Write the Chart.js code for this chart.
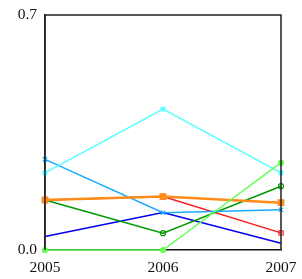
<!DOCTYPE html>
<html>
<head>
<meta charset="utf-8">
<script src="https://cdn.jsdelivr.net/npm/chart.js@4"></script>
<style>
  html, body { margin: 0; padding: 0; background: #fff; }
  #wrap { width: 302px; height: 279px; }
</style>
</head>
<body>
<div id="wrap"><canvas id="chart" width="302" height="279"></canvas></div>
<script>
const years = ['2005', '2006', '2007']
const yTicks = [0, 0.7]

const lightGreen = [0, 0, 0.26]
const orange = [0.149, 0.159, 0.141]
const red = [0.149, 0.159, 0.051]
const cyan = [0.23, 0.42, 0.23]
const skyBlue = [0.27, 0.111, 0.12]
const green = [0.149, 0.05, 0.19]
const blue = [0.04, 0.112, 0.02]

const serif = "'Liberation Serif', 'DejaVu Serif', serif"

const frame = {
  id: 'frame',
  afterDatasetsDraw(chart) {
    const { ctx, chartArea: a } = chart
    ctx.save()
    ctx.strokeStyle = '#222'
    ctx.lineWidth = 1.5
    ctx.beginPath()
    ctx.moveTo(a.left, a.bottom)
    ctx.lineTo(a.left, a.top)
    ctx.lineTo(a.right, a.top)
    ctx.lineTo(a.right, a.bottom)
    ctx.stroke()
    ctx.restore()
  },
}

function series(data, color, opts) {
  return Object.assign({
    data,
    borderColor: color,
    backgroundColor: color,
    pointBorderColor: color,
    borderWidth: 1.5,
    pointRadius: 2.5,
    pointBorderWidth: 1.2,
    tension: 0,
    clip: 8,
  }, opts)
}

new Chart(document.getElementById('chart'), {
  type: 'line',
  data: {
    labels: years,
    datasets: [
      series(lightGreen, '#66ff55', { pointStyle: 'circle', pointRadius: 2.5 }),
      series(orange, '#ff8c1a', { borderWidth: 2.5, pointStyle: 'rect', pointRadius: 4 }),
      series(cyan, '#55ffff', { pointStyle: 'rect', pointRadius: 2.5 }),
      series(skyBlue, '#1aaaff', { pointStyle: 'crossRot', pointRadius: 3 }),
      series(green, '#009900', { pointStyle: 'circle', pointRadius: 2.5, backgroundColor: 'rgba(0,0,0,0)' }),
      series(red, '#ff1a1a', { pointStyle: 'rect', pointRadius: 3, backgroundColor: 'rgba(0,0,0,0)' }),
      series(blue, '#0000ee', { pointRadius: 0 }),
    ],
  },
  options: {
    responsive: false,
    animation: false,
    events: [],
    layout: { padding: { left: 0, right: 21, top: 15, bottom: 0 } },
    plugins: { legend: { display: false }, tooltip: { enabled: false } },
    scales: {
      x: {
        offset: false,
        grid: { display: false, drawTicks: false },
        border: { display: true, color: '#111', width: 1.5 },
        ticks: { color: '#111', font: { family: serif, size: 15.5 }, padding: 9, maxRotation: 0 },
        afterFit: (scale) => {
          scale.height = 29
          scale.paddingLeft = 0
          scale.paddingRight = 0
        },
      },
      y: {
        min: 0,
        max: 0.7,
        grid: { display: false, drawTicks: false },
        border: { display: true, color: '#222', width: 1.5 },
        afterBuildTicks: (scale) => { scale.ticks = yTicks.map((v) => ({ value: v })) },
        ticks: {
          color: '#111',
          font: { family: serif, size: 15.5 },
          padding: 8,
          callback: (value) => Number(value).toFixed(1),
        },
        afterFit: (scale) => {
          scale.width = 45
          scale.paddingTop = 0
          scale.paddingBottom = 0
        },
      },
    },
  },
  plugins: [frame],
})
</script>
</body>
</html>
